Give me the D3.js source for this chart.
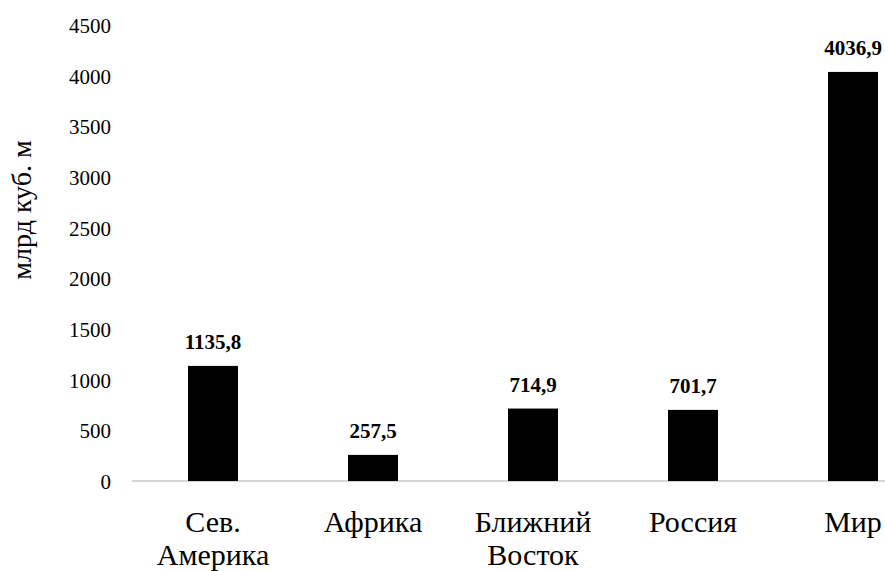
<!DOCTYPE html>
<html><head><meta charset="utf-8">
<script src="https://cdn.jsdelivr.net/npm/d3@7"></script>
<style>body{margin:0;background:#fff}svg{display:block}text{font-family:"Times New Roman","Liberation Serif","DejaVu Serif","Noto Serif",Tinos,serif !important;fill:#000}</style>
</head><body><svg id="c" width="885" height="571"></svg>
<script>
const categories = [["Сев.","Америка"],["Африка"],["Ближний","Восток"],["Россия"],["Мир"]];
const values = [1135.8, 257.5, 714.9, 701.7, 4036.9];
const valueLabels = ["1135,8","257,5","714,9","701,7","4036,9"];
const yTicks = [0,500,1000,1500,2000,2500,3000,3500,4000,4500];
const yTitle = "млрд куб. м";

const svg = d3.select("#c");
const x = d3.scaleBand().domain(d3.range(categories.length)).range([133, 933]).paddingInner(0.6875).paddingOuter(0.34375);
const y = d3.scaleLinear().domain([0, 4500]).range([481, 25]);

svg.append("line").attr("x1", 132).attr("x2", 933).attr("y1", y(0)).attr("y2", y(0))
  .attr("stroke", "#c8c8c8").attr("stroke-width", 1.5);

const ya = d3.axisLeft(y).tickValues(yTicks).tickSize(0).tickPadding(0).tickFormat(d3.format("d"));
const g = svg.append("g").attr("transform", "translate(111,0)").call(ya);
g.attr("font-family", null);
g.select(".domain").remove();
g.selectAll("text").attr("font-size", 21).attr("dy", "0.35em");

svg.selectAll("rect.bar").data(values).enter().append("rect").attr("class","bar")
  .attr("x", (d,i) => x(i)).attr("width", x.bandwidth())
  .attr("y", d => y(d)).attr("height", d => y(0) - y(d)).attr("fill", "#000");

svg.selectAll("text.val").data(values).enter().append("text").attr("class","val")
  .attr("x", (d,i) => x(i) + x.bandwidth()/2).attr("y", d => y(d) - 17)
  .attr("text-anchor", "middle").attr("font-size", 21).attr("font-weight", "bold")
  .text((d,i) => valueLabels[i]);

const cat = svg.selectAll("text.cat").data(categories).enter().append("text").attr("class","cat")
  .attr("text-anchor", "middle").attr("font-size", 30);
cat.selectAll("tspan").data((d,i) => d.map(s => ({s, i}))).enter().append("tspan")
  .attr("x", d => x(d.i) + x.bandwidth()/2)
  .attr("y", (d,j) => 532 + j*33)
  .text(d => d.s);

svg.append("text").attr("transform", "translate(31,210) rotate(-90)")
  .attr("text-anchor", "middle").attr("font-size", 28).text(yTitle);
</script></body></html>
